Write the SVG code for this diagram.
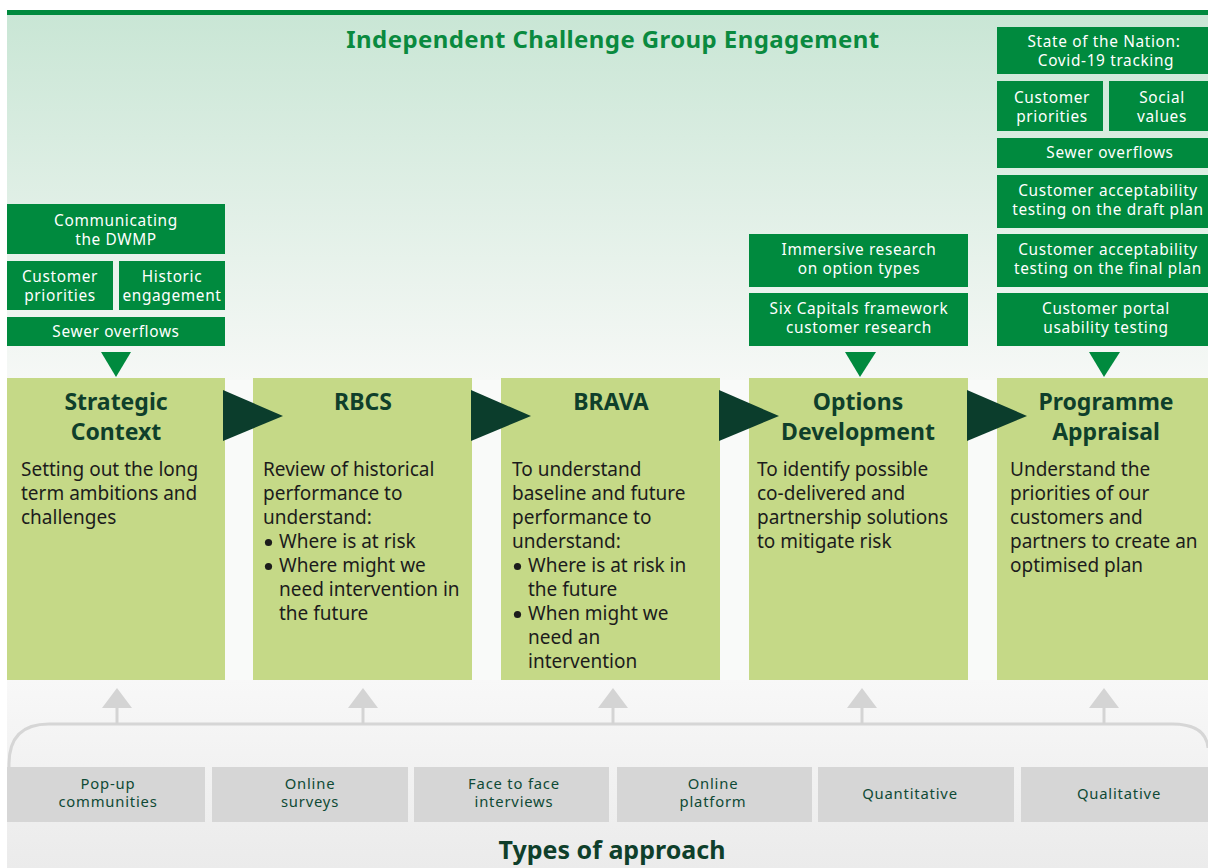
<svg xmlns="http://www.w3.org/2000/svg" width="1208" height="868" viewBox="0 0 1208 868">
<defs>
<linearGradient id="gTop" x1="0" y1="0" x2="0" y2="1">
<stop offset="0" stop-color="#c9e6d5"/>
<stop offset="1" stop-color="#f6f8f6"/>
</linearGradient>
<linearGradient id="gBot" x1="0" y1="0" x2="0" y2="1">
<stop offset="0" stop-color="#f8f8f8"/>
<stop offset="1" stop-color="#ebebeb"/>
</linearGradient>
<style>
.gb{fill:#008a3e}
.wt{fill:#ffffff;font-family:"Noto Sans",sans-serif;font-size:15.4px;letter-spacing:0.65px;text-anchor:middle}
.lb{fill:#c5d987}
.tt{fill:#0f3f2b;font-family:"Noto Sans",sans-serif;font-size:23px;font-weight:bold;text-anchor:middle}
.bd{fill:#1c1c1c;font-family:"Noto Sans",sans-serif;font-size:19px}
.bl{fill:#1c1c1c}
.da{fill:#0b3d2c}
.gr{fill:#d6d6d6}
.gt{fill:#0f4a35;font-family:"Noto Sans",sans-serif;font-size:14.8px;letter-spacing:0.8px;text-anchor:middle}
.ua{fill:#d4d4d4}
</style>
</defs>
<rect x="0" y="0" width="1208" height="868" fill="#ffffff"/>
<rect x="7" y="15" width="1201" height="365" fill="url(#gTop)"/>
<rect x="7" y="380" width="1201" height="300" fill="#f9faf9"/>
<rect x="7" y="680" width="1201" height="188" fill="url(#gBot)"/>
<rect x="7" y="10" width="1201" height="5" fill="#008a3e"/>
<text x="613" y="48" font-family="Noto Sans, sans-serif" font-size="24" font-weight="bold" letter-spacing="0.4" fill="#0a8a3f" text-anchor="middle">Independent Challenge Group Engagement</text>

<g id="sc-inputs">
<rect class="gb" x="7" y="204" width="218" height="50"/>
<text class="wt" x="116" y="226">Communicating</text>
<text class="wt" x="116" y="245">the DWMP</text>
<rect class="gb" x="7" y="261" width="106" height="49"/>
<text class="wt" x="60" y="282">Customer</text>
<text class="wt" x="60" y="301">priorities</text>
<rect class="gb" x="119" y="261" width="106" height="49"/>
<text class="wt" x="172" y="282">Historic</text>
<text class="wt" x="172" y="301">engagement</text>
<rect class="gb" x="7" y="317" width="218" height="29"/>
<text class="wt" x="116" y="337">Sewer overflows</text>
<polygon class="gb" points="101,352 131,352 116,377"/>
</g>

<g id="od-inputs">
<rect class="gb" x="749" y="234" width="219" height="53"/>
<text class="wt" x="859" y="255">Immersive research</text>
<text class="wt" x="859" y="274">on option types</text>
<rect class="gb" x="749" y="293" width="219" height="53"/>
<text class="wt" x="859" y="314">Six Capitals framework</text>
<text class="wt" x="859" y="333">customer research</text>
<polygon class="gb" points="845,352 876,352 860,377"/>
</g>

<g id="pa-inputs">
<rect class="gb" x="997" y="27" width="211" height="47"/>
<text class="wt" x="1104" y="47">State of the Nation:</text>
<text class="wt" x="1106" y="66">Covid-19 tracking</text>
<rect class="gb" x="997" y="81" width="106" height="50"/>
<text class="wt" x="1052" y="103">Customer</text>
<text class="wt" x="1052" y="122">priorities</text>
<rect class="gb" x="1109" y="81" width="99" height="50"/>
<text class="wt" x="1162" y="103">Social</text>
<text class="wt" x="1162" y="122">values</text>
<rect class="gb" x="997" y="138" width="211" height="30"/>
<text class="wt" x="1110" y="158">Sewer overflows</text>
<rect class="gb" x="997" y="175" width="211" height="53"/>
<text class="wt" x="1108" y="196">Customer acceptability</text>
<text class="wt" x="1108" y="215">testing on the draft plan</text>
<rect class="gb" x="997" y="234" width="211" height="53"/>
<text class="wt" x="1108" y="255">Customer acceptability</text>
<text class="wt" x="1108" y="274">testing on the final plan</text>
<rect class="gb" x="997" y="293" width="211" height="53"/>
<text class="wt" x="1106" y="314">Customer portal</text>
<text class="wt" x="1106" y="333">usability testing</text>
<polygon class="gb" points="1089,352 1120,352 1104,377"/>
</g>

<g id="strategic-context">
<rect class="lb" x="7" y="378" width="218" height="302"/>
<text class="tt" x="116" y="410">Strategic</text>
<text class="tt" x="116" y="440">Context</text>
<text class="bd" x="21" y="476">Setting out the long</text>
<text class="bd" x="21" y="500">term ambitions and</text>
<text class="bd" x="21" y="524">challenges</text>
</g>

<g id="rbcs">
<rect class="lb" x="253" y="378" width="219" height="302"/>
<text class="tt" x="363" y="410">RBCS</text>
<text class="bd" x="263" y="476">Review of historical</text>
<text class="bd" x="263" y="500">performance to</text>
<text class="bd" x="263" y="524">understand:</text>
<circle class="bl" cx="268.5" cy="542.5" r="3.6"/><text class="bd" x="279" y="548">Where is at risk</text>
<circle class="bl" cx="268.5" cy="566.5" r="3.6"/><text class="bd" x="279" y="572">Where might we</text>
<text class="bd" x="279" y="596">need intervention in</text>
<text class="bd" x="279" y="620">the future</text>
</g>

<g id="brava">
<rect class="lb" x="501" y="378" width="219" height="302"/>
<text class="tt" x="611" y="410">BRAVA</text>
<text class="bd" x="512" y="476">To understand</text>
<text class="bd" x="512" y="500">baseline and future</text>
<text class="bd" x="512" y="524">performance to</text>
<text class="bd" x="512" y="548">understand:</text>
<circle class="bl" cx="517.5" cy="566.5" r="3.6"/><text class="bd" x="528" y="572">Where is at risk in</text>
<text class="bd" x="528" y="596">the future</text>
<circle class="bl" cx="517.5" cy="614.5" r="3.6"/><text class="bd" x="528" y="620">When might we</text>
<text class="bd" x="528" y="644">need an</text>
<text class="bd" x="528" y="668">intervention</text>
</g>

<g id="options-development">
<rect class="lb" x="749" y="378" width="219" height="302"/>
<text class="tt" x="858" y="410">Options</text>
<text class="tt" x="858" y="440">Development</text>
<text class="bd" x="757" y="476">To identify possible</text>
<text class="bd" x="757" y="500">co-delivered and</text>
<text class="bd" x="757" y="524">partnership solutions</text>
<text class="bd" x="757" y="548">to mitigate risk</text>
</g>

<g id="programme-appraisal">
<rect class="lb" x="997" y="378" width="211" height="302"/>
<text class="tt" x="1106" y="410">Programme</text>
<text class="tt" x="1106" y="440">Appraisal</text>
<text class="bd" x="1010" y="476">Understand the</text>
<text class="bd" x="1010" y="500">priorities of our</text>
<text class="bd" x="1010" y="524">customers and</text>
<text class="bd" x="1010" y="548">partners to create an</text>
<text class="bd" x="1010" y="572">optimised plan</text>
</g>

<g id="connectors">
<polygon class="da" points="223,390 283,416 223,441"/>
<polygon class="da" points="471,390 531,416 471,441"/>
<polygon class="da" points="719,390 779,416 719,441"/>
<polygon class="da" points="967,390 1027,416 967,441"/>
<path d="M9,767 L9,764 Q9,724 49,724 L1172,724 Q1206,724 1208,748" fill="none" stroke="#d6d6d6" stroke-width="3"/>
<g stroke="#d4d4d4" stroke-width="3">
<line x1="117" y1="706" x2="117" y2="724"/>
<line x1="363" y1="706" x2="363" y2="724"/>
<line x1="613" y1="706" x2="613" y2="724"/>
<line x1="862" y1="706" x2="862" y2="724"/>
<line x1="1104" y1="706" x2="1104" y2="724"/>
</g>
<polygon class="ua" points="102,708 132,708 117,688"/>
<polygon class="ua" points="348,708 378,708 363,688"/>
<polygon class="ua" points="598,708 628,708 613,688"/>
<polygon class="ua" points="847,708 877,708 862,688"/>
<polygon class="ua" points="1089,708 1119,708 1104,688"/>
</g>

<g id="popup">
<rect class="gr" x="7" y="767" width="198" height="55"/>
<text class="gt" x="108" y="789">Pop-up</text>
<text class="gt" x="108" y="807">communities</text>
</g>
<g id="online-surveys">
<rect class="gr" x="212" y="767" width="196" height="55"/>
<text class="gt" x="310" y="789">Online</text>
<text class="gt" x="310" y="807">surveys</text>
</g>
<g id="face-to-face">
<rect class="gr" x="414" y="767" width="195" height="55"/>
<text class="gt" x="514" y="789">Face to face</text>
<text class="gt" x="514" y="807">interviews</text>
</g>
<g id="online-platform">
<rect class="gr" x="617" y="767" width="195" height="55"/>
<text class="gt" x="713" y="789">Online</text>
<text class="gt" x="713" y="807">platform</text>
</g>
<g id="quantitative">
<rect class="gr" x="818" y="767" width="196" height="55"/>
<text class="gt" x="910" y="799">Quantitative</text>
</g>
<g id="qualitative">
<rect class="gr" x="1021" y="767" width="187" height="55"/>
<text class="gt" x="1119" y="799">Qualitative</text>
</g>
<text x="612" y="859" font-family="Noto Sans, sans-serif" font-size="25" font-weight="bold" fill="#0f3f2b" text-anchor="middle">Types of approach</text>
</svg>
